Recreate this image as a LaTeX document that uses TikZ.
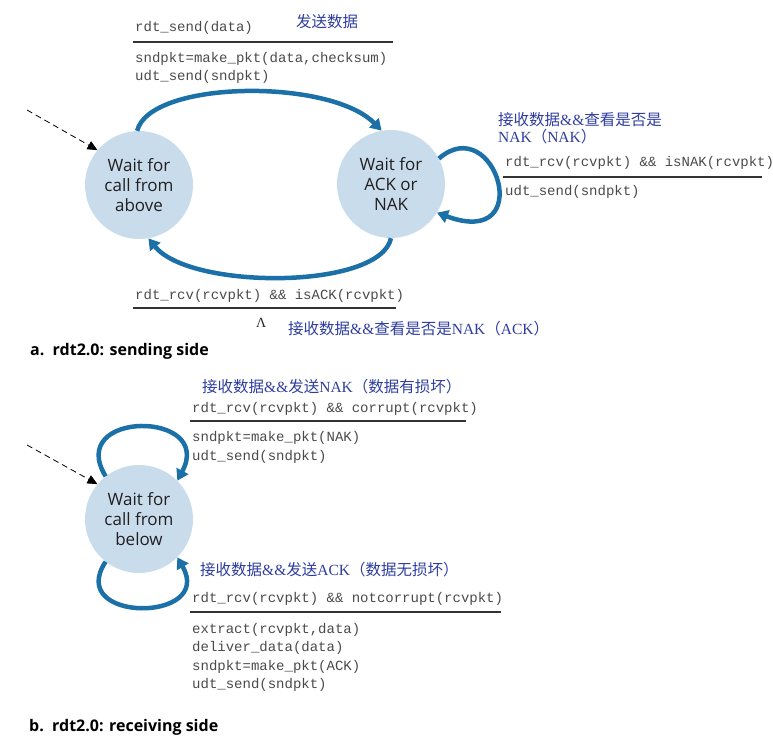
\documentclass[tikz,border=0pt]{standalone}
\usepackage{fontspec}
\setmainfont{Open Sans}
\setmonofont{Liberation Mono}
\newfontfamily\cjk{Noto Sans CJK SC}
\newfontfamily\lser{Liberation Serif}
\usetikzlibrary{arrows.meta}
\definecolor{arrowblue}{HTML}{1B70A8}
\definecolor{fillblue}{HTML}{C8DCEC}
\definecolor{cntext}{HTML}{2E3D9E}
\definecolor{monogray}{HTML}{4A4A4A}
\definecolor{statetext}{HTML}{231F20}
\newcommand{\zh}[1]{{\cjk #1}}
\newcommand{\lt}[1]{{\lser #1}}
\begin{document}
\begin{tikzpicture}[x=1pt,y=-1pt,
  state/.style={circle,fill=fillblue,minimum size=108pt,inner sep=0pt,align=center,
    font=\fontsize{17}{20}\selectfont,text=statetext},
  trans/.style={line width=4.5pt,draw=arrowblue,-{Triangle[length=11pt,width=13pt]}},
  init/.style={line width=0.8pt,dash pattern=on 6pt off 4pt,-{Triangle[length=10pt,width=9pt]}},
  code/.style={anchor=base west,inner sep=0pt,font=\fontsize{14}{18}\ttfamily,text=monogray},
  zhlabel/.style={anchor=base west,inner sep=0pt,font=\fontsize{15.5}{20}\selectfont,text=cntext},
  rulel/.style={line width=1.3pt,draw=black!80},
  caption/.style={anchor=base west,inner sep=0pt,font=\fontsize{16}{20}\selectfont\bfseries,text=black}
]
\useasboundingbox (0,0) rectangle (773,743);

% ---------- sending side ----------
\node[state] (L) at (139,185) {Wait for\\call from\\above};
\node[state] (R) at (391,184) {Wait for\\ACK or\\NAK};

\coordinate (sinit) at (27,110);
\draw[init] (sinit) -- (L.140);

\draw[trans] (L.92) .. controls (150,80) and (330,78) .. (R.100);
\draw[trans] (R.-90) .. controls (380,290) and (190,290) .. (L.-80);
\draw[trans] (R.28) .. controls (495,110) and (538,250) .. (R.-32);

\node[zhlabel] (t1) at (296,28) {\zh{发送数据}};
\node[code] (c1) at (135,32) {rdt\_send(data)};
\draw[rulel] (133,42) -- (393,42);
\node[code] (c2) at (135,63) {sndpkt=make\_pkt(data,checksum)};
\node[code] (c3) at (135,81) {udt\_send(sndpkt)};

\node[zhlabel] (t2) at (498,126) {\zh{接收数据}\lt{\&\&}\zh{查看是否是}};
\node[zhlabel] (t3) at (498,143) {\lt{NAK}\zh{（}\lt{NAK}\zh{）}};
\node[code] (c4) at (505,167) {rdt\_rcv(rcvpkt) \&\& isNAK(rcvpkt)};
\draw[rulel] (503,177) -- (762,177);
\node[code] (c5) at (505,196) {udt\_send(sndpkt)};

\node[code] (c6) at (135,299) {rdt\_rcv(rcvpkt) \&\& isACK(rcvpkt)};
\draw[rulel] (133,308) -- (396,308);
\node[anchor=base west,inner sep=0pt,text=black!85,font=\fontsize{14}{16}\lser] (lam) at (256,327) {Λ};
\node[zhlabel] (t4) at (288,334) {\zh{接收数据}\lt{\&\&}\zh{查看是否是}\lt{NAK}\zh{（}\lt{ACK}\zh{）}};

\node[caption] (capa) at (30,355) {a.\ \ rdt2.0: sending side};

% ---------- receiving side ----------
\node[state] (B) at (139,519) {Wait for\\call from\\below};

\coordinate (rinit) at (27,445);
\draw[init] (rinit) -- (B.140);

\draw[trans] (B.128) .. controls (65,410) and (215,410) .. (B.45);
\draw[trans] (B.-128) .. controls (65,623) and (215,623) .. (B.-45);

\node[zhlabel] (t5) at (202,392) {\zh{接收数据}\lt{\&\&}\zh{发送}\lt{NAK}\zh{（数据有损坏）}};
\node[code] (c7) at (192,412) {rdt\_rcv(rcvpkt) \&\& corrupt(rcvpkt)};
\draw[rulel] (190,421) -- (466,421);
\node[code] (c8) at (192,441) {sndpkt=make\_pkt(NAK)};
\node[code] (c9) at (192,460) {udt\_send(sndpkt)};

\node[zhlabel] (t6) at (200,575) {\zh{接收数据}\lt{\&\&}\zh{发送}\lt{ACK}\zh{（数据无损坏）}};
\node[code] (c10) at (192,602) {rdt\_rcv(rcvpkt) \&\& notcorrupt(rcvpkt)};
\draw[rulel] (190,612) -- (501,612);
\node[code] (c11) at (192,633) {extract(rcvpkt,data)};
\node[code] (c12) at (192,651) {deliver\_data(data)};
\node[code] (c13) at (192,670) {sndpkt=make\_pkt(ACK)};
\node[code] (c14) at (192,688) {udt\_send(sndpkt)};

\node[caption] (capb) at (29,731) {b.\ \ rdt2.0: receiving side};
\end{tikzpicture}
\end{document}
